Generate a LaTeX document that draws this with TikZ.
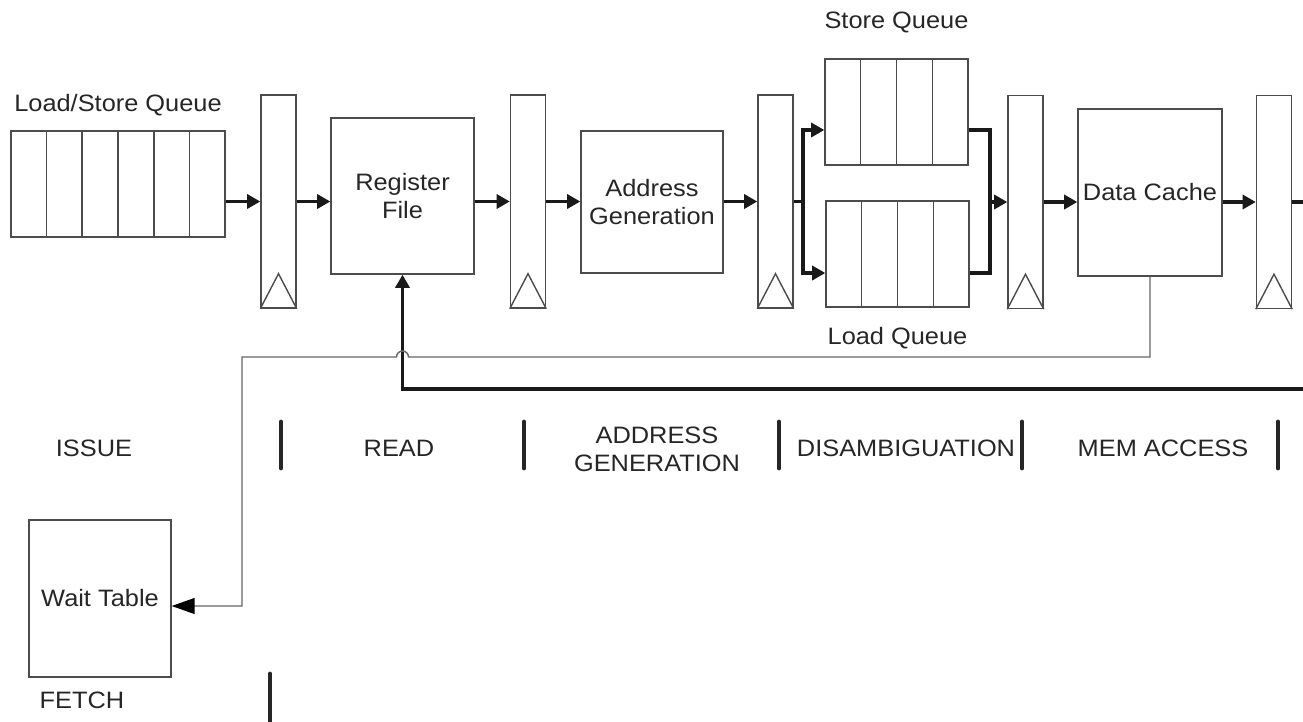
\documentclass[tikz,border=0pt]{standalone}
\usepackage{fontspec}
\setmainfont{Liberation Sans}[FakeStretch=1.07]
\usetikzlibrary{positioning, arrows.meta, calc}
\tikzset{
  latch/.style={rectangle, draw=black!70, line width=0.8pt, minimum width=0.7cm, minimum height=4.26cm, inner sep=0pt},
  unit/.style={rectangle, draw=black!70, line width=0.8pt, align=center, inner sep=0pt},
  queue/.style={rectangle, draw=black!70, line width=0.8pt, minimum height=2.12cm, inner sep=0pt},
  cell/.style={draw=black!70, line width=0.8pt},
  stage/.style={align=center},
  bus/.style={line width=2pt, black!90},
  arrow/.style={bus, -{Triangle[length=7.5pt, width=8pt]}},
  wire/.style={line width=0.8pt, black!60},
  sep/.style={line width=2.8pt, line cap=round, black!85}
}
\begin{document}
\begin{tikzpicture}[x=0.02cm, y=-0.02cm, every node/.style={font=\fontsize{13.5}{16}\selectfont, text=black!85}]
    \useasboundingbox (0,0) rectangle (1303,721);

    % pipeline
    \node (lsq) [queue, minimum width=4.28cm] at (118,184) {};
    \node (latch1) [latch] at (278.5,201.5) {};
    \node (rf) [unit, minimum width=2.86cm, minimum height=3.12cm] at (402.5,196) {Register\\File};
    \node (latch2) [latch] at (528,201.5) {};
    \node (ag) [unit, minimum width=2.84cm, minimum height=2.84cm] at (652,202) {Address\\Generation};
    \node (latch3) [latch] at (775.5,201.5) {};
    \node (sq) [queue, minimum width=2.86cm] at (896.5,112) {};
    \node (lq) [queue, minimum width=2.86cm] at (897.5,254) {};
    \node (latch4) [latch] at (1025.5,202) {};
    \node (dc) [unit, minimum width=2.88cm, minimum height=3.34cm] at (1150,192.5) {Data Cache};
    \node (latch5) [latch] at (1274,202) {};
    \node (wt) [unit, minimum width=2.84cm, minimum height=3.14cm] at (100,598.5) {Wait Table};

    \node (lsqlabel) [above=0.17cm of lsq] {Load/Store Queue};
    \node (sqlabel) [above=0.39cm of sq] {Store Queue};
    \node (lqlabel) [below=0.27cm of lq] {Load Queue};

    % queue entries
    \foreach \k in {1,...,5}
      \draw[cell] ($(lsq.north west)!\k/6!(lsq.north east)$) -- ($(lsq.south west)!\k/6!(lsq.south east)$);
    \foreach \q in {sq,lq}
      \foreach \k in {1,2,3}
        \draw[cell] ($(\q.north west)!\k/4!(\q.north east)$) -- ($(\q.south west)!\k/4!(\q.south east)$);

    % clock marks
    \foreach \l in {latch1,latch2,latch3,latch4,latch5}
      \draw[cell] (\l.south west) -- ([yshift=0.7cm]\l.south) -- (\l.south east);

    % stages
    \node (issue) at (94,448) {ISSUE};
    \node (read) at (399,448) {READ};
    \node (addrgen) [stage] at (657,449) {ADDRESS\\GENERATION};
    \node (disamb) at (906,448) {DISAMBIGUATION};
    \node (memacc) at (1163,448) {MEM ACCESS};
    \node (fetch) at (82,700) {FETCH};
    \foreach \x in {281,524,779,1022,1278}
      \draw[sep] (\x,422) -- (\x,468);
    \draw[sep] (270,674) -- (270,721);

    % Flechas
    \draw[arrow] (lsq.east |- latch1.west) -- (latch1.west);
    \draw[arrow] (latch1.east) -- (rf.west |- latch1.east);
    \draw[arrow] (rf.east |- latch2.west) -- (latch2.west);
    \draw[arrow] (latch2.east) -- (ag.west |- latch2.east);
    \draw[arrow] (ag.east |- latch3.west) -- (latch3.west);

    \coordinate (split) at (803,201.5);
    \draw[bus] (latch3.east) -- (split);
    \draw[arrow] (split) |- ([yshift=-0.36cm]sq.west);
    \draw[arrow] (split) |- ([yshift=-0.38cm]lq.west);

    \coordinate (merge) at (990,202);
    \draw[bus] ([yshift=-0.36cm]sq.east) -| (merge);
    \draw[bus] ([yshift=-0.38cm]lq.east) -| (merge);
    \draw[arrow] (merge) -- (latch4.west);
    \draw[arrow] (latch4.east) -- (dc.west |- latch4.east);
    \draw[arrow] (dc.east |- latch5.west) -- (latch5.west);
    \coordinate (out) at (1303,202);
    \draw[bus] (latch5.east) -- (out);

    % bypass to register file
    \coordinate (back) at (1303,389);
    \draw[arrow] (back) -| (rf.south);

    % update of wait table
    \coordinate (tap) at (1150,357);
    \coordinate (hop) at (408.5,357);
    \coordinate (corner) at (242,357);
    \draw[wire, -{Triangle[length=13pt, width=9pt, color=black]}] (dc.south) -- (tap) -- (hop)
      arc[start angle=0, end angle=180, radius=0.12cm] -- (corner) |- ([yshift=-0.15cm]wt.east);

\end{tikzpicture}
\end{document}
